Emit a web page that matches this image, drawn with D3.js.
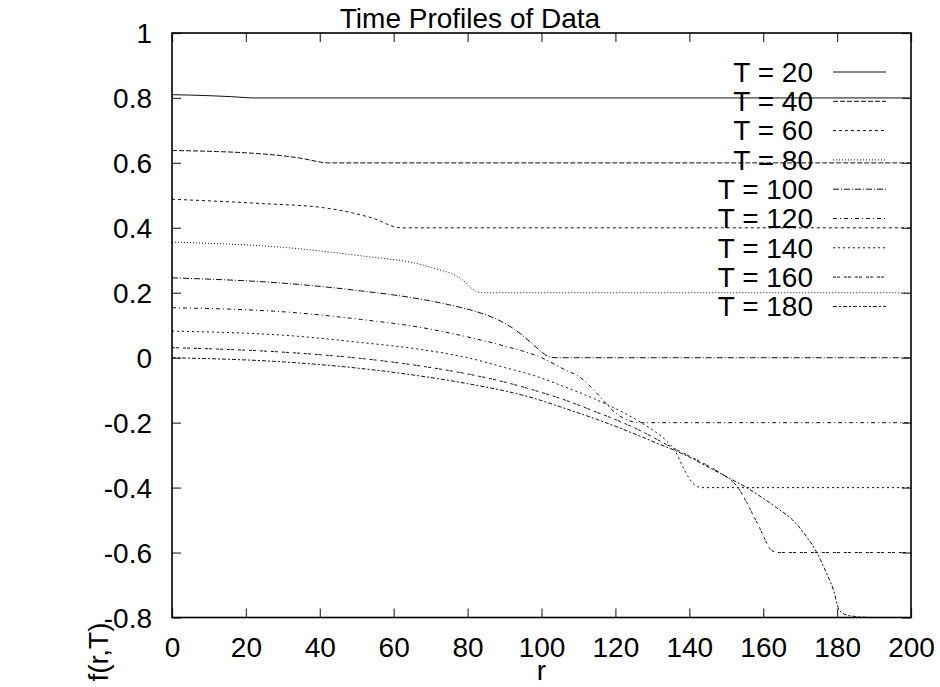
<!DOCTYPE html>
<html>
<head>
<meta charset="utf-8">
<script src="https://cdn.jsdelivr.net/npm/d3@7"></script>
<style>
  body { margin: 0; background: #fff; }
  svg { display: block; font-family: "Liberation Sans", Arial, Helvetica, sans-serif; }
</style>
</head>
<body>
<svg id="chart" width="940" height="687"></svg>
<script>
// Time profiles f(r,T), one line per T value.

const width = 940;
const height = 687;

const xTicks = [0, 20, 40, 60, 80, 100, 120, 140, 160, 180, 200];
const yTicks = [-0.8, -0.6, -0.4, -0.2, 0, 0.2, 0.4, 0.6, 0.8, 1];

const seriesNames = ["T = 20", "T = 40", "T = 60", "T = 80", "T = 100",
  "T = 120", "T = 140", "T = 160", "T = 180"];

// [r, f] pairs
const t20 = [[0, 0.81], [10, 0.807], [16, 0.804], [20, 0.801], [22, 0.8], [200, 0.8]];
const t40 = [[0, 0.638], [12, 0.635], [24, 0.628], [32, 0.619], [36, 0.612],
  [39, 0.605], [42, 0.6], [200, 0.6]];
const t60 = [[0, 0.488], [24, 0.475], [41, 0.462], [51, 0.44], [55, 0.427],
  [58.5, 0.41], [61, 0.401], [63, 0.4], [200, 0.4]];
const t80 = [[0, 0.356], [33, 0.337], [51, 0.314], [67, 0.288], [72, 0.272],
  [76, 0.257], [79, 0.236], [81, 0.214], [82.5, 0.203], [84, 0.2], [200, 0.2]];
const t100 = [[0, 0.246], [33, 0.227], [51, 0.206], [67, 0.181], [75, 0.163],
  [82, 0.143], [88, 0.118], [93, 0.085], [97, 0.048], [100, 0.018],
  [102, 0.003], [104, 0], [200, 0]];
const t120 = [[0, 0.154], [33, 0.139], [51, 0.118], [67, 0.094], [80, 0.064],
  [90, 0.036], [100, 0.0], [106, -0.035], [111, -0.065], [115, -0.11],
  [118, -0.148], [120, -0.17], [122, -0.185], [124, -0.195], [127, -0.2], [200, -0.2]];
const t140 = [[0, 0.082], [33, 0.067], [51, 0.047], [67, 0.026], [80, 0.0],
  [90, -0.03], [98, -0.055], [105, -0.084], [115, -0.13], [122, -0.168],
  [127, -0.2], [131, -0.23], [134, -0.258], [136, -0.284], [138, -0.33],
  [140, -0.372], [141.5, -0.392], [143.5, -0.4], [200, -0.4]];
const t160 = [[0, 0.031], [33, 0.015], [51, -0.002], [67, -0.025], [80, -0.05],
  [90, -0.075], [98, -0.1], [105, -0.125], [115, -0.168], [122, -0.2],
  [127, -0.226], [131, -0.25], [136, -0.28], [140, -0.303], [144, -0.326],
  [148, -0.352], [151, -0.375], [153, -0.397], [155.5, -0.445], [157.5, -0.49],
  [159, -0.523], [160.5, -0.56], [161.8, -0.588], [163.5, -0.599], [165, -0.6], [200, -0.6]];
const t180 = [[0, 0.0], [33, -0.015], [51, -0.033], [67, -0.056], [80, -0.08],
  [90, -0.102], [98, -0.125], [105, -0.151], [115, -0.19], [122, -0.22],
  [127, -0.243], [131, -0.262], [136, -0.285], [140, -0.306], [145, -0.336],
  [150, -0.366], [155.5, -0.4], [160, -0.433], [164, -0.465], [168, -0.5],
  [171, -0.54], [174.5, -0.6], [177, -0.66], [179, -0.715], [180.5, -0.775],
  [182, -0.79], [185, -0.797], [190, -0.8], [200, -0.8]];

const profiles = [t20, t40, t60, t80, t100, t120, t140, t160, t180];

// gnuplot-ish dash types
const dashes = ["none", "5,2", "3,3", "1,2", "6,2,1,2", "4,3,1,3", "2,3", "3,1,3,4", "4,2,2,2"];

const plotLeft = 172, plotRight = 911, plotTop = 33, plotBottom = 617.5;

const x = d3.scaleLinear().domain([0, 200]).range([plotLeft, plotRight]);
const y = d3.scaleLinear().domain([-0.8, 1]).range([plotBottom, plotTop]);

const svg = d3.select("#chart");

svg.append("defs").append("clipPath").attr("id", "plot-clip")
  .append("rect")
  .attr("x", plotLeft).attr("y", plotTop - 1)
  .attr("width", plotRight - plotLeft).attr("height", plotBottom - plotTop + 2);

const fmt = (d) => String(+d.toFixed(1));

// axes, ticks pointing inward
const xAxis = svg.append("g")
  .attr("transform", `translate(0,${plotBottom})`)
  .call(d3.axisBottom(x).tickValues(xTicks).tickSize(-9).tickPadding(20).tickFormat(fmt));

const yAxis = svg.append("g")
  .attr("transform", `translate(${plotLeft},0)`)
  .call(d3.axisLeft(y).tickValues(yTicks).tickSize(-9).tickPadding(20).tickFormat(fmt));

svg.append("g")
  .attr("transform", `translate(0,${plotTop})`)
  .call(d3.axisTop(x).tickValues(xTicks).tickSize(-9).tickFormat(""));

svg.append("g")
  .attr("transform", `translate(${plotRight},0)`)
  .call(d3.axisRight(y).tickValues(yTicks).tickSize(-9).tickFormat(""));

svg.selectAll(".domain").remove();
svg.selectAll(".tick line").attr("stroke", "#444").attr("stroke-width", 1.3);
svg.selectAll(".tick text")
  .attr("font-size", 28)
  .attr("font-family", "Liberation Sans, Arial, sans-serif")
  .attr("fill", "#000");
yAxis.selectAll(".tick text").attr("dy", "0.35em");

// curves
const line = d3.line()
  .x((d) => x(d[0]))
  .y((d) => y(d[1]))
  .curve(d3.curveMonotoneX);

svg.append("g")
  .attr("clip-path", "url(#plot-clip)")
  .selectAll("path")
  .data(profiles)
  .enter()
  .append("path")
  .attr("d", line)
  .attr("fill", "none")
  .attr("stroke", "#111")
  .attr("stroke-width", 1)
  .attr("stroke-dasharray", (d, i) => dashes[i]);

// border
svg.append("rect")
  .attr("x", plotLeft).attr("y", plotTop)
  .attr("width", plotRight - plotLeft).attr("height", plotBottom - plotTop)
  .attr("fill", "none")
  .attr("stroke", "#000")
  .attr("stroke-width", 1.6);

// legend
const rowY = (i) => 72 + i * 29.3;
const legend = svg.append("g");
legend.selectAll("text")
  .data(seriesNames)
  .enter()
  .append("text")
  .attr("x", 813)
  .attr("y", (d, i) => rowY(i))
  .attr("dy", "0.35em")
  .attr("text-anchor", "end")
  .attr("font-size", 28)
  .text((d) => d);
legend.selectAll("line")
  .data(seriesNames)
  .enter()
  .append("line")
  .attr("x1", 833).attr("x2", 886)
  .attr("y1", (d, i) => rowY(i)).attr("y2", (d, i) => rowY(i))
  .attr("stroke", "#111")
  .attr("stroke-width", 1)
  .attr("stroke-dasharray", (d, i) => dashes[i]);

// title and labels
svg.append("text")
  .attr("x", 470).attr("y", 28)
  .attr("text-anchor", "middle")
  .attr("font-size", 28)
  .text("Time Profiles of Data");

svg.append("text")
  .attr("x", x(100)).attr("y", 680)
  .attr("text-anchor", "middle")
  .attr("font-size", 28)
  .text("r");

svg.append("text")
  .attr("transform", "translate(98,652) rotate(-90)")
  .attr("text-anchor", "middle")
  .attr("dy", "0.35em")
  .attr("font-size", 28)
  .text("f(r,T)");
</script>
</body>
</html>
